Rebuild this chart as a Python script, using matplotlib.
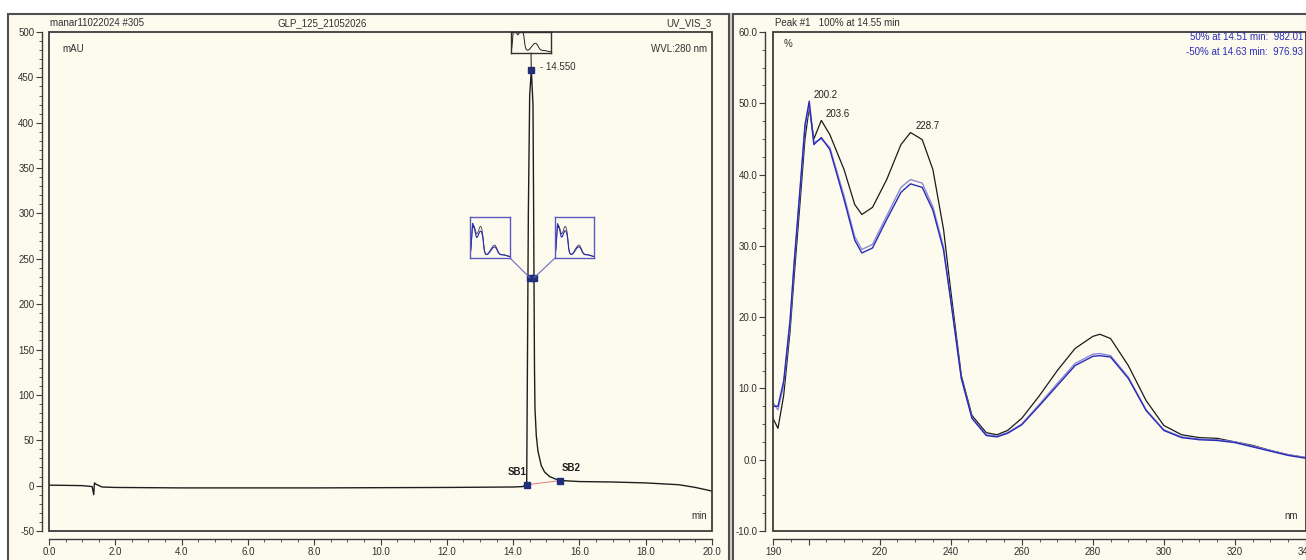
import matplotlib
matplotlib.use("Agg")
import matplotlib.pyplot as plt, numpy as np
from matplotlib.patches import Rectangle, ConnectionPatch
from matplotlib.ticker import MultipleLocator, FixedLocator

plt.rcParams['font.family'] = ['Liberation Sans', 'DejaVu Sans']
plt.rcParams['font.size'] = 7

# CHROMATOGRAM (time in min, signal in mAU)
time_min = [0.0, 0.5, 1.0, 1.3, 1.35, 1.37, 1.40, 1.45, 1.6, 2.0, 4.0, 8.0, 12.0, 14.0,
            14.30, 14.41, 14.43, 14.46, 14.50, 14.55, 14.60, 14.62, 14.63, 14.645, 14.66,
            14.70, 14.75, 14.85, 14.95, 15.10, 15.30, 15.50, 16.0, 17.0, 18.0, 19.0, 19.5, 20.0]
signal_mau = [0.5, 0.3, 0.0, -1.0, -10.0, 3.0, 2.0, 1.0, -1.5, -2.0, -2.5, -2.5, -2.0, -1.5,
              -1.0, 2.0, 120.0, 300.0, 430.0, 458.0, 420.0, 300.0, 229.0, 130.0, 85.0,
              55.0, 38.0, 22.0, 15.0, 10.0, 7.0, 5.5, 4.5, 4.0, 3.0, 1.0, -2.0, -6.0]

peak_time = 14.55
peak_height = 458.0
half_times = [14.51, 14.63]
half_height = 229.0
sb_times = [14.42, 15.41]
sb_values = [1.0, 5.5]
sb_names = ["SB1", "SB2"]

# UV SPECTRA (wavelength in nm, relative %)
wavelength = [190, 191.4, 193, 194.8, 196, 197.6, 199, 200.2, 201.5, 203.6, 206, 210, 213, 215,
              218, 222, 226, 228.7, 232, 235, 238, 240, 243, 246, 250, 253, 256, 260, 265,
              270, 275, 280, 282, 285, 290, 295, 300, 305, 310, 315, 320, 325, 330, 335, 340]
spec_100 = [5.8, 4.4, 9.0, 18.0, 26.0, 36.0, 45.0, 49.4, 45.0, 47.6, 45.6, 40.7, 35.8, 34.4,
            35.4, 39.3, 44.2, 45.9, 44.9, 40.7, 32.3, 23.8, 11.8, 6.2, 3.8, 3.5, 4.1, 5.8, 9.0,
            12.5, 15.6, 17.3, 17.6, 17.0, 13.2, 8.3, 4.8, 3.5, 3.1, 3.0, 2.5, 2.0, 1.3, 0.7, 0.3]
spec_p50 = [7.5, 7.5, 11.0, 19.6, 28.0, 38.0, 47.0, 50.3, 44.2, 45.2, 43.5, 36.5, 30.8, 29.0,
            29.7, 33.7, 37.5, 38.7, 38.2, 35.0, 29.4, 22.4, 11.4, 5.8, 3.4, 3.2, 3.7, 4.9, 7.6,
            10.4, 13.2, 14.5, 14.6, 14.4, 11.4, 6.9, 4.1, 3.1, 2.8, 2.7, 2.4, 1.8, 1.2, 0.6, 0.2]
spec_m50 = [8.0, 7.0, 10.5, 19.0, 27.5, 37.5, 46.5, 49.8, 44.5, 45.0, 43.8, 37.0, 31.3, 29.5,
            30.2, 34.2, 38.2, 39.3, 38.8, 35.5, 29.8, 22.6, 11.5, 5.9, 3.5, 3.3, 3.8, 5.0, 7.8,
            10.7, 13.5, 14.8, 14.9, 14.6, 11.6, 7.0, 4.2, 3.2, 2.9, 2.8, 2.5, 1.9, 1.3, 0.7, 0.3]
peak_labels = [200.2, 203.6, 228.7]

W, H = 1306, 560
CREAM = "#fdfbee"
FRAME = "#3c3c3c"
NAVY = "#1f2f7a"
BLUE = "#2a2ab8"
LAVENDER = "#8a8ad8"


def fx(px):
    return px / W


def fy(py):
    return 1 - py / H


def rect(x0, y0, x1, y1):
    return [fx(x0), fy(y1), fx(x1) - fx(x0), (y1 - y0) / H]


def style_axes(ax, y_offset_px):
    ax.set_facecolor(CREAM)
    for s in ["top", "right"]:
        ax.spines[s].set_visible(False)
    ax.spines["left"].set_position(("outward", y_offset_px * 0.72))
    ax.spines["bottom"].set_position(("outward", 8 * 0.72))
    for s in ["left", "bottom"]:
        ax.spines[s].set_color(FRAME)
        ax.spines[s].set_linewidth(1.0)
    ax.add_patch(Rectangle((0, 0), 1, 1, transform=ax.transAxes, fill=False,
                           edgecolor=FRAME, lw=1.3, clip_on=False, zorder=5))
    ax.tick_params(which="major", direction="out", length=4, width=0.8,
                   colors=FRAME, labelsize=7, labelcolor="#303030", pad=1.5)
    ax.tick_params(which="minor", direction="out", length=2.5, width=0.6, colors=FRAME)


fig = plt.figure(figsize=(W / 100, H / 100), dpi=100)
fig.patch.set_facecolor("white")

# PANEL BACKGROUNDS
fig.add_artist(Rectangle((fx(729), 0), fx(733) - fx(729), fy(13), transform=fig.transFigure,
                         facecolor="#cfcfcf", edgecolor="none", zorder=-2))
for x0, x1 in [(8, 729), (733, 1312)]:
    fig.add_artist(Rectangle((fx(x0), fy(565)), fx(x1) - fx(x0), (565 - 14) / H,
                             transform=fig.transFigure, facecolor=CREAM,
                             edgecolor="#505050", lw=1.5, zorder=-1))

# LEFT: CHROMATOGRAM
ax1 = fig.add_axes(rect(49, 32, 712, 531))
style_axes(ax1, 7)
ax1.plot(time_min, signal_mau, color="#1e1e1e", lw=1.0, zorder=3)
ax1.plot(sb_times, sb_values, color="#e08a8a", lw=0.8, zorder=3)
ax1.plot(sb_times, sb_values, "s", color=NAVY, ms=4, zorder=4)
ax1.plot(half_times, [half_height, half_height], "s", color=NAVY, ms=4, zorder=4)
ax1.plot(half_times, [half_height, half_height], color=NAVY, lw=3, zorder=4)
ax1.plot([peak_time], [peak_height], "s", color=NAVY, ms=4, zorder=4)
ax1.annotate("- 14.550", (peak_time, peak_height), xytext=(6, 2), textcoords="offset points",
             fontsize=7, color="#303030", va="center")
for name, t, v, dx in zip(sb_names, sb_times, sb_values, [-7, 8]):
    ax1.annotate(name, (t, v), xytext=(dx, 9), textcoords="offset points", fontsize=7,
                 color="#202020", ha="center", va="center", fontweight="bold")
ax1.set_xlim(0, 20)
ax1.set_ylim(-50, 500)
ax1.xaxis.set_major_locator(MultipleLocator(2))
ax1.xaxis.set_minor_locator(MultipleLocator(0.5))
ax1.yaxis.set_major_locator(MultipleLocator(50))
ax1.yaxis.set_minor_locator(MultipleLocator(10))
ax1.xaxis.set_major_formatter(lambda v, p: f"{v:.1f}")
ax1.yaxis.set_major_formatter(lambda v, p: f"{v:.0f}")
ax1.text(0.02, 0.975, "mAU", transform=ax1.transAxes, fontsize=7, va="top", color="#303030")
ax1.text(0.993, 0.975, "WVL:280 nm", transform=ax1.transAxes, fontsize=7, va="top", ha="right",
         color="#303030")
ax1.text(0.993, 0.02, "min", transform=ax1.transAxes, fontsize=7, va="bottom", ha="right",
         color="#303030")
fig.text(fx(50), fy(23), "manar11022024 #305", fontsize=7, va="center", color="#303030")
fig.text(fx(322), fy(23), "GLP_125_21052026", fontsize=7, va="center", ha="center", color="#303030")
fig.text(fx(712), fy(23), "UV_VIS_3", fontsize=7, va="center", ha="right", color="#303030")

# SPECTRUM INSETS ON THE CHROMATOGRAM
inset_boxes = [(470, 217, 510, 258), (555, 217, 594, 258)]
inset_specs = [spec_p50, spec_m50]
inset_corner = [1, 0]
for (x0, y0, x1, y1), sp, cx, ht in zip(inset_boxes, inset_specs, inset_corner, half_times):
    ia = fig.add_axes(rect(x0, y0, x1, y1))
    ia.set_facecolor(CREAM)
    ia.plot(wavelength, spec_100, color="#404040", lw=0.6)
    ia.plot(wavelength, sp, color=BLUE, lw=0.8)
    ia.set_xlim(190, 340)
    ia.set_ylim(-2, 60)
    ia.set_xticks([]); ia.set_yticks([])
    for s in ia.spines.values():
        s.set_color("#5a5ac0"); s.set_linewidth(1.0)
    con = ConnectionPatch(xyA=(cx, 0), coordsA=ia.transAxes, xyB=(ht, half_height),
                          coordsB=ax1.transData, color="#6a6ac8", lw=0.8, zorder=2)
    fig.add_artist(con)

top_inset = fig.add_axes(rect(511, 32, 551, 53))
top_inset.set_facecolor(CREAM)
top_inset.plot(wavelength, spec_100, color="#202020", lw=0.7)
top_inset.set_xlim(190, 340)
top_inset.set_ylim(-2, 40)
top_inset.set_xticks([]); top_inset.set_yticks([])
for s in top_inset.spines.values():
    s.set_color("#303030"); s.set_linewidth(1.0)
fig.add_artist(ConnectionPatch(xyA=(0.5, 0), coordsA=top_inset.transAxes,
                               xyB=(peak_time, peak_height), coordsB=ax1.transData,
                               color="#303030", lw=0.8))

# RIGHT: UV SPECTRA
ax2 = fig.add_axes(rect(773, 32, 1306, 531))
style_axes(ax2, 8)
ax2.plot(wavelength, spec_100, color="#1a1a1a", lw=0.9, zorder=3)
ax2.plot(wavelength, spec_m50, color=LAVENDER, lw=1.0, zorder=3)
ax2.plot(wavelength, spec_p50, color=BLUE, lw=1.0, zorder=3)
label_y = [spec_p50[wavelength.index(peak_labels[0])],
           spec_100[wavelength.index(peak_labels[1])],
           spec_100[wavelength.index(peak_labels[2])]]
for wl, val in zip(peak_labels, label_y):
    ax2.annotate(f"{wl:.1f}", (wl, val), xytext=(12, 1), textcoords="offset points",
                 fontsize=7, ha="center", va="bottom", color="#202020")
ax2.set_xlim(190, 340)
ax2.set_ylim(-10, 60)
ax2.xaxis.set_major_locator(FixedLocator([190, 200, 220, 240, 260, 280, 300, 320, 340]))
ax2.xaxis.set_minor_locator(MultipleLocator(5))
ax2.xaxis.set_major_formatter(lambda v, p: "" if v == 200 else f"{v:.0f}")
ax2.yaxis.set_major_locator(MultipleLocator(10))
ax2.yaxis.set_minor_locator(MultipleLocator(2.5))
ax2.yaxis.set_major_formatter(lambda v, p: f"{v:.1f}")
ax2.text(0.02, 0.985, "%", transform=ax2.transAxes, fontsize=7, va="top", color="#303030")
ax2.text(0.985, 0.02, "nm", transform=ax2.transAxes, fontsize=7, va="bottom", ha="right",
         color="#303030")
fig.text(fx(775), fy(23), "Peak #1   100% at 14.55 min", fontsize=7, va="center", color="#303030")
fig.text(fx(1303), fy(37), "50% at 14.51 min:  982.01", fontsize=7, va="center", ha="right",
         color=BLUE)
fig.text(fx(1303), fy(52), "-50% at 14.63 min:  976.93", fontsize=7, va="center", ha="right",
         color=BLUE)

fig.savefig("out.png", dpi=100, facecolor=fig.get_facecolor())
